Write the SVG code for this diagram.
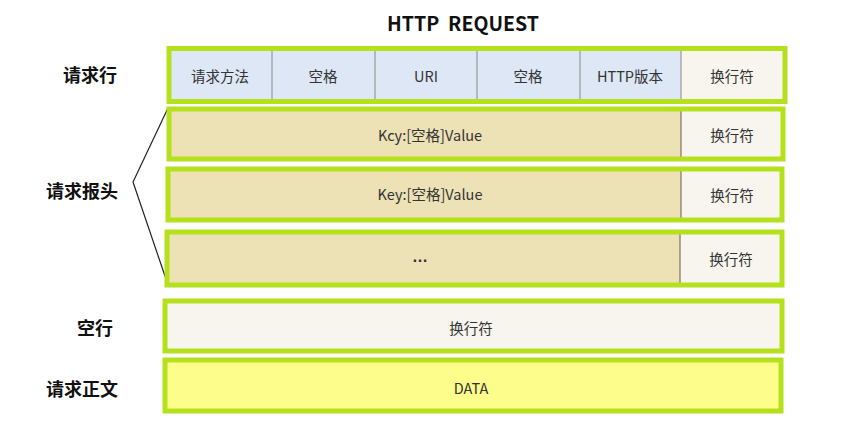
<svg xmlns="http://www.w3.org/2000/svg" width="845" height="436" viewBox="0 0 845 436">
<style>
.frame{fill:none;stroke:#b4e01c;stroke-width:5}
.blue{fill:#dde7f5}
.cream{fill:#f8f5ee}
.tan{fill:#ede1b6}
.yel{fill:#fdfd8c}
.div{stroke:#8a8a8a;stroke-width:1}
.t{font-family:"Noto Sans CJK SC","Liberation Sans",sans-serif;font-size:14.5px;fill:#333;text-anchor:middle;dominant-baseline:central}
.lbl{font-family:"Noto Sans CJK SC","Liberation Sans",sans-serif;font-size:18px;font-weight:bold;fill:#111;text-anchor:middle;dominant-baseline:central}
</style>
<rect width="845" height="436" fill="#ffffff"/>
<text class="lbl" x="463" y="22" style="font-size:19.5px">HTTP&#160;&#160;REQUEST</text>
<text class="lbl" x="90" y="74">请求行</text>
<text class="lbl" x="82" y="190">请求报头</text>
<text class="lbl" x="95" y="327">空行</text>
<text class="lbl" x="82" y="388">请求正文</text>
<g id="connectors">
<polyline points="168,108 133,182 167,282" fill="none" stroke="#222" stroke-width="1.2"/>
</g>
<g id="row-request-line">
<rect class="blue" x="169" y="49" width="512" height="52"/>
<rect class="cream" x="681" y="49" width="103" height="52"/>
<line class="div" x1="272" y1="49" x2="272" y2="101"/>
<line class="div" x1="375" y1="49" x2="375" y2="101"/>
<line class="div" x1="477" y1="49" x2="477" y2="101"/>
<line class="div" x1="580" y1="49" x2="580" y2="101"/>
<line class="div" x1="681" y1="49" x2="681" y2="101"/>
<rect class="frame" x="169" y="48.5" width="616" height="53"/>
<text class="t" x="220" y="75">请求方法</text>
<text class="t" x="323" y="75">空格</text>
<text class="t" x="426" y="75">URI</text>
<text class="t" x="528" y="75">空格</text>
<text class="t" x="630" y="75">HTTP版本</text>
<text class="t" x="732" y="75">换行符</text>
</g>
<g id="row-header-1">
<rect class="tan" x="169" y="109" width="512" height="50"/>
<rect class="cream" x="681" y="109" width="102" height="50"/>
<line x1="681" y1="109" x2="681" y2="159" stroke="#6b5a40" stroke-width="1"/>
<rect class="frame" x="169" y="109" width="614" height="50"/>
<text class="t" x="430" y="134">Kcy:[空格]Value</text>
<text class="t" x="732" y="134">换行符</text>
</g>
<g id="row-header-2">
<rect class="tan" x="168" y="169" width="513" height="51"/>
<rect class="cream" x="681" y="169" width="101" height="51"/>
<line x1="681" y1="169" x2="681" y2="220" stroke="#6b5a40" stroke-width="1"/>
<rect class="frame" x="168" y="169" width="614" height="51"/>
<text class="t" x="430" y="193">Key:[空格]Value</text>
<text class="t" x="732" y="194">换行符</text>
</g>
<g id="row-header-3">
<rect class="tan" x="167" y="232" width="513" height="53"/>
<rect class="cream" x="680" y="232" width="102" height="53"/>
<line x1="680" y1="232" x2="680" y2="285" stroke="#6b5a40" stroke-width="1"/>
<rect class="frame" x="167" y="232" width="615" height="53"/>
<text class="t" x="420" y="256" style="font-weight:bold;font-size:16px;font-family:'Liberation Sans',sans-serif">…</text>
<text class="t" x="731" y="258">换行符</text>
</g>
<g id="row-blank">
<rect class="cream" x="165" y="301" width="617" height="50"/>
<rect class="frame" x="165" y="301" width="617" height="50"/>
<text class="t" x="471" y="327">换行符</text>
</g>
<g id="row-body">
<rect class="yel" x="165" y="360" width="616" height="51"/>
<rect class="frame" x="165" y="360" width="616" height="51"/>
<text class="t" x="471" y="387">DATA</text>
</g>
</svg>
